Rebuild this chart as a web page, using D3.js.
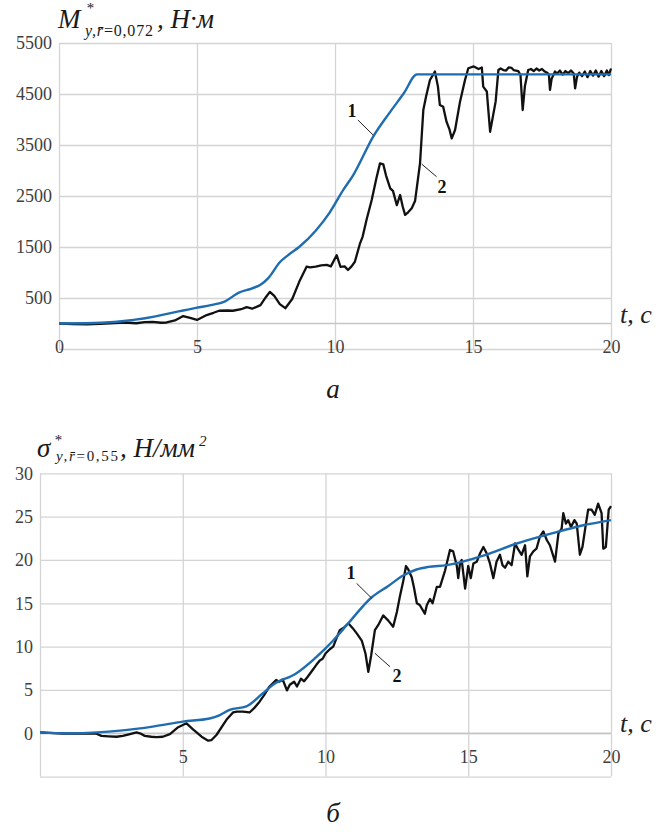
<!DOCTYPE html>
<html><head><meta charset="utf-8">
<script src="https://cdn.jsdelivr.net/npm/d3@7"></script>
<style>body{margin:0;background:#fff}</style>
</head><body>
<svg id="c" width="662" height="832" font-family="Liberation Serif"></svg>
<script>
// ---------- Chart a: M*, N·m ----------
const tA_ticks = [0,5,10,15,20];
const vA_ticks = [500,1500,2500,3500,4500,5500];
const tA1 = [0,1,2,2.7,3.5,4,4.5,5,5.5,6,6.5,7,7.3,7.6,8,8.3,8.7,9.3,9.8,10.3,10.65,11.4,12,12.5,12.97,20];
const vA1 = [0,5,30,70,140,200,255,310,360,430,600,690,760,900,1200,1340,1500,1820,2170,2620,2900,3680,4150,4520,4885,4885];
const tA2 = [0,0.5,1,1.5,2,2.4,2.8,3.1,3.4,3.7,3.9,4.2,4.5,4.75,5.0,5.35,5.6,5.8,6.1,6.3,6.6,6.8,7.0,7.3,7.5,7.64,7.8,8.0,8.2,8.45,8.73,8.97,9.1,9.3,9.5,9.7,9.85,10.06,10.2,10.35,10.47,10.6,10.72,10.9,11.0,11.15,11.33,11.5,11.63,11.75,11.85,12.0,12.1,12.24,12.36,12.45,12.54,12.65,12.78,12.9,13.08,13.2,13.3,13.44,13.62,13.73,13.8,13.92,14.04,14.15,14.23,14.35,14.53,14.71,14.83,15.03,15.2,15.32,15.37,15.5,15.62,15.82,15.92,16.0,16.1,16.2,16.29,16.4,16.47,16.64,16.72,16.8,16.88,17.0,17.1,17.2,17.3,17.4,17.5,17.6,17.7,17.75,17.79,17.85,17.97,18.05,18.15,18.25,18.35,18.45,18.55,18.65,18.7,18.77,18.85,18.95,19.05,19.15,19.25,19.35,19.45,19.55,19.65,19.75,19.85,19.92,20];
const vA2 = [0,-10,-15,-5,10,20,5,25,30,15,20,60,145,110,70,165,210,250,255,250,280,320,290,360,520,620,540,380,300,480,850,1115,1100,1115,1140,1150,1120,1340,1110,1120,1050,1120,1210,1560,1700,2050,2420,2850,3140,3120,2900,2650,2600,2320,2520,2300,2130,2180,2260,2400,3140,4185,4450,4775,4940,4645,4284,4250,3957,3800,3630,3795,4350,4775,5005,5040,4990,5020,4645,4550,3760,4350,4970,5000,4970,4960,5020,5010,4970,4950,4870,4186,4650,4970,4990,4950,5000,4960,4990,4940,4910,4880,4580,4800,4940,4900,4960,4880,4950,4910,4960,4900,4610,4840,4920,4850,4940,4830,4950,4860,4960,4840,4950,4850,4960,4870,5000];

// ---------- Chart b: sigma*, N/mm2 ----------
const tB_ticks = [5,10,15,20];
const vB_ticks = [0,5,10,15,20,25,30];
const tB1 = [0,1,2,2.8,4,5,5.94,6.3,6.64,7.23,7.8,8.16,8.97,9.56,10,10.27,10.8,11.62,12.2,12.72,13.19,13.6,14.24,15.53,16.7,17.86,19.03,20];
const vB1 = [0.1,0,0.1,0.3,0.8,1.35,1.7,2.1,2.7,3.1,4.6,5.6,6.9,8.45,9.8,10.7,12.7,15.7,17.0,18.2,18.9,19.2,19.4,20.5,21.9,23.0,24.0,24.6];
const tB2 = [0,0.82,1.98,2.15,2.4,2.68,2.9,3.15,3.38,3.5,3.67,3.9,4.08,4.3,4.55,4.84,5.13,5.36,5.66,5.89,6.0,6.18,6.53,6.76,6.9,7.1,7.34,7.5,7.69,7.85,8.04,8.27,8.38,8.5,8.65,8.75,8.9,9.0,9.14,9.25,9.37,9.55,9.68,9.8,9.9,10.0,10.15,10.27,10.5,10.65,10.8,10.96,11.1,11.27,11.4,11.5,11.6,11.73,11.85,12.02,12.2,12.37,12.5,12.6,12.72,12.82,12.9,13.02,13.1,13.2,13.3,13.48,13.55,13.66,13.75,13.9,14.01,14.19,14.36,14.47,14.6,14.65,14.71,14.77,14.89,15.0,15.09,15.18,15.3,15.42,15.53,15.64,15.76,15.88,15.99,16.11,16.2,16.29,16.4,16.52,16.64,16.76,16.87,16.99,17.07,17.16,17.28,17.39,17.51,17.63,17.75,17.86,18.04,18.16,18.27,18.33,18.42,18.5,18.6,18.72,18.8,18.91,19.0,19.1,19.2,19.32,19.43,19.55,19.67,19.73,19.82,19.92,20];
const vB2 = [0.1,-0.05,-0.05,-0.3,-0.35,-0.4,-0.3,-0.1,0.1,0,-0.3,-0.4,-0.45,-0.4,-0.1,0.7,1.15,0.45,-0.4,-0.85,-0.8,-0.2,1.55,2.4,2.5,2.5,2.4,2.9,3.65,4.4,5.4,6.15,5.95,6.2,4.95,5.6,5.95,5.4,6.3,6.0,6.5,7.3,7.9,8.4,8.6,9.2,9.7,10.0,11.9,12.2,12.7,12.1,11.5,10.7,9.2,7.1,9.0,11.9,12.5,13.6,13.0,12.3,14.0,15.7,17.5,19.3,18.9,18.0,16.8,15.0,14.8,13.8,14.8,15.5,15.0,16.9,16.9,18.8,21.15,21.0,19.3,17.9,19.6,20.0,16.7,19.3,17.9,19.6,19.8,20.8,21.5,20.8,19.6,17.9,19.8,20.6,19.4,19.1,19.8,19.4,21.9,21.15,20.6,21.7,18.1,20.4,21.0,21.3,22.7,23.3,22.3,21.7,19.8,23.1,23.6,25.4,24.2,24.6,23.8,24.6,24.2,20.6,21.5,23.7,25.8,25.8,25.2,26.5,25.4,21.3,21.5,25.8,26.2];

const BLUE = "#1f6db0", BLACK = "#111", GRID = "#d4d4d4", TXT = "#404040";
const FONT = "Liberation Serif";
const svg = d3.select("#c");

function panel(o){
  const x = d3.scaleLinear().domain([0,20]).range(o.xr);
  const y = d3.scaleLinear().domain(o.yd).range(o.yr);
  const g = svg.append("g");
  g.append("g").attr("transform",`translate(${o.xr[0]},0)`)
    .call(d3.axisLeft(y).tickValues(o.yGrid).tickSize(-(o.xr[1]-o.xr[0])).tickFormat(""))
    .call(s=>s.select(".domain").remove())
    .call(s=>s.selectAll("line").attr("stroke",GRID).attr("stroke-width",1.3));
  g.append("g").attr("transform",`translate(0,${o.yr[0]})`)
    .call(d3.axisBottom(x).tickValues([0,5,10,15,20]).tickSize(-(o.yr[0]-o.yr[1])).tickFormat(""))
    .call(s=>s.select(".domain").remove())
    .call(s=>s.selectAll("line").attr("stroke",GRID).attr("stroke-width",1.3));
  g.append("line").attr("x1",x(0)).attr("x2",x(20)).attr("y1",y(0)).attr("y2",y(0))
    .attr("stroke","#c6c6c6").attr("stroke-width",1.3);
  g.append("g").attr("transform",`translate(${o.xr[0]},0)`)
    .call(d3.axisLeft(y).tickValues(o.yTicks).tickSize(0).tickPadding(7).tickFormat(d3.format("d")))
    .attr("font-family",FONT).attr("font-size",18)
    .call(s=>s.select(".domain").remove())
    .call(s=>s.selectAll("text").attr("font-family",FONT).attr("font-size",18).attr("fill",TXT));
  g.append("g").attr("transform",`translate(0,${y(0)})`)
    .call(d3.axisBottom(x).tickValues(o.xTicks).tickSize(0).tickPadding(16.5).tickFormat(d3.format("d")))
    .attr("font-family",FONT).attr("font-size",18)
    .call(s=>s.select(".domain").remove())
    .call(s=>s.selectAll("text").attr("font-family",FONT).attr("font-size",18).attr("fill",TXT));
  const line = d3.line().x(d=>x(d[0])).y(d=>y(d[1]));
  g.append("path").datum(d3.zip(o.t2,o.v2)).attr("d",line)
    .attr("fill","none").attr("stroke",BLACK).attr("stroke-width",2.3).attr("stroke-linejoin","round");
  g.append("path").datum(d3.zip(o.t1,o.v1)).attr("d",line.curve(d3.curveMonotoneX))
    .attr("fill","none").attr("stroke",BLUE).attr("stroke-width",2.4);
  o.ann.forEach(a=>{
    g.append("line").attr("x1",x(a.l[0])).attr("y1",y(a.l[1])).attr("x2",x(a.l[2])).attr("y2",y(a.l[3]))
      .attr("stroke","#222").attr("stroke-width",1);
    g.append("text").attr("x",x(a.t)).attr("y",y(a.v)).attr("text-anchor","middle")
      .attr("font-family",FONT).attr("font-size",18).attr("font-weight","bold").attr("fill","#111").text(a.s);
  });
  g.append("text").attr("x",x(20)+9).attr("y",y(0)-1).attr("font-size",26)
    .attr("font-family",FONT).attr("font-style","italic").attr("fill","#222").text("t, c");
  return {x,y};
}

panel({xr:[59,611], yd:[-500,5500], yr:[349,43], yGrid:[-500,500,1500,2500,3500,4500,5500],
  yTicks:vA_ticks, xTicks:tA_ticks, t1:tA1, v1:vA1, t2:tA2, v2:vA2,
  ann:[{s:"1",t:10.62,v:4049,l:[10.83,3990,11.38,3696]},
       {s:"2",t:13.88,v:2559,l:[13.14,3127,13.68,2878]}]});

panel({xr:[40,611], yd:[-5,30], yr:[776.6,473.3], yGrid:[-5,0,5,10,15,20,25,30],
  yTicks:vB_ticks, xTicks:tB_ticks, t1:tB1, v1:vB1, t2:tB2, v2:vB2,
  ann:[{s:"1",t:10.89,v:17.8,l:[11.09,17.3,11.62,15.58]},
       {s:"2",t:12.5,v:5.92,l:[11.73,9.23,12.26,7.68]}]});

function it(x,y,size,txt){
  return svg.append("text").attr("x",x).attr("y",y).attr("font-size",size)
    .attr("font-family",FONT).attr("font-style","italic").attr("fill","#1a1a1a").text(txt);
}
// chart a title
it(58,28,27,"M");
it(86,13,15,"*");
const sa = svg.append("text").attr("x",85).attr("y",36).attr("font-size",16)
  .attr("font-family",FONT).attr("fill","#1a1a1a")
  .attr("textLength",68).attr("lengthAdjust","spacing");
sa.append("tspan").attr("font-style","italic").text("y,r\u0304");
sa.append("tspan").text("=0,072");
it(157,28,27,", Н·м");
// chart b title
it(37,457,27,"σ");
it(54,445,15,"*");
const sb = svg.append("text").attr("x",56).attr("y",461).attr("font-size",15)
  .attr("font-family",FONT).attr("fill","#1a1a1a")
  .attr("textLength",62).attr("lengthAdjust","spacing");
sb.append("tspan").attr("font-style","italic").text("y,r\u0304");
sb.append("tspan").text("=0,55");
it(120,457,27,", Н/мм");
it(199,446,15,"2");
it(333,398,27,"а").attr("text-anchor","middle");
it(333,822,27,"б").attr("text-anchor","middle");
</script>
</body></html>
